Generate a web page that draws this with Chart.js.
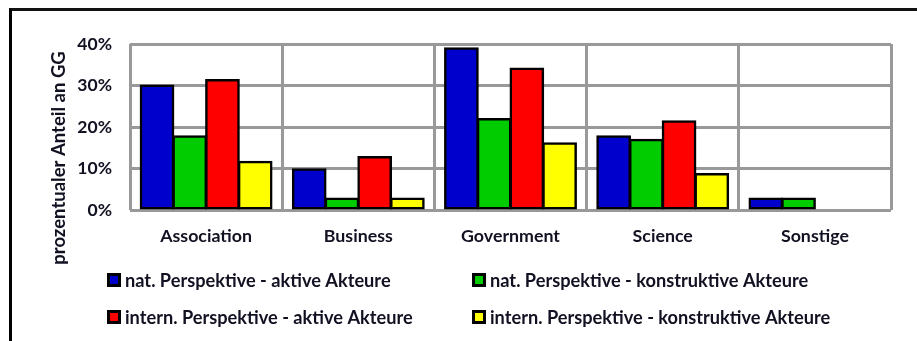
<!DOCTYPE html>
<html><head><meta charset="utf-8">
<script src="https://cdn.jsdelivr.net/npm/chart.js@4/dist/chart.umd.min.js"></script>
<style>
html,body{margin:0;padding:0;background:#fff;}
#wrap{position:relative;width:917px;height:341px;overflow:hidden;}
#frame{position:absolute;left:9px;top:8px;right:-5px;bottom:-5px;border-left:3px solid #000;border-top:3px solid #111;pointer-events:none;}
canvas{position:absolute;left:0;top:0;}
</style></head><body>
<div id="wrap"><canvas id="c" width="917" height="341"></canvas><div id="frame"></div></div>
<script>
const categories = ['Association', 'Business', 'Government', 'Science', 'Sonstige'];
const natAktiv = [30.0, 9.8, 39.0, 17.8, 2.8];
const natKonstruktiv = [17.8, 2.8, 21.9, 16.9, 2.8];
const internAktiv = [31.3, 12.8, 34.1, 21.4, 0];
const internKonstruktiv = [11.6, 2.8, 16.1, 8.7, 0];
const seriesLabels = [
  'nat. Perspektive - aktive Akteure',
  'nat. Perspektive - konstruktive Akteure',
  'intern. Perspektive - aktive Akteure',
  'intern. Perspektive - konstruktive Akteure'
];
const seriesColors = ['#0000CC', '#00CC00', '#FF0000', '#FFFF00'];
const yTickValues = [0, 10, 20, 30, 40];
const yTitle = 'prozentualer Anteil an GG';

const FONT = 'Lato';
const TEXT = '#111122';
const values = [natAktiv, natKonstruktiv, internAktiv, internKonstruktiv];

const legendPlugin = {
  id: 'gridLegend',
  afterDraw(chart) {
    const ctx = chart.ctx;
    ctx.save();
    ctx.font = 'bold 18.5px ' + FONT;
    ctx.fillStyle = TEXT;
    ctx.textAlign = 'center';
    ctx.textBaseline = 'middle';
    ctx.translate(59, 158);
    ctx.rotate(-Math.PI / 2);
    ctx.fillText(yTitle, 0, 0);
    ctx.restore();

    ctx.save();
    const cols = [107, 472];
    const rows = [280, 317];
    chart.data.datasets.forEach((ds, i) => {
      const x = cols[i % 2];
      const y = rows[Math.floor(i / 2)];
      ctx.fillStyle = '#000';
      ctx.fillRect(x, y - 7, 14, 14);
      ctx.fillStyle = ds.backgroundColor;
      ctx.fillRect(x + 3, y - 4, 8, 8);
      ctx.fillStyle = TEXT;
      ctx.font = 'bold 18.2px ' + FONT;
      ctx.textAlign = 'left';
      ctx.textBaseline = 'middle';
      ctx.fillText(ds.label, x + 18, y + 1);
    });
    ctx.restore();
  }
};

new Chart(document.getElementById('c'), {
  type: 'bar',
  data: {
    labels: categories,
    datasets: values.map((v, i) => ({
      label: seriesLabels[i],
      data: v,
      backgroundColor: seriesColors[i],
      borderColor: '#000',
      borderWidth: 2.5,
      borderSkipped: false,
      inflateAmount: 1
    }))
  },
  options: {
    responsive: false,
    animation: false,
    devicePixelRatio: 1,
    layout: { padding: { top: 44, right: 26, left: 0, bottom: 0 } },
    datasets: { bar: { categoryPercentage: 0.86, barPercentage: 1.0 } },
    plugins: { legend: { display: false }, tooltip: { enabled: false } },
    scales: {
      x: {
        grid: { display: true, offset: true, color: '#999999', lineWidth: 3, drawTicks: false },
        border: { display: false },
        ticks: { color: TEXT, font: { family: FONT, size: 17.8, weight: 'bold' }, padding: 16 },
        afterFit(scale) { scale.height = 131; }
      },
      y: {
        min: 0, max: 40,
        afterBuildTicks(scale) { scale.ticks = yTickValues.map(v => ({ value: v })); },
        grid: { color: '#999999', lineWidth: 3, drawTicks: false },
        border: { display: false },
        ticks: {
          color: TEXT, font: { family: FONT, size: 17.5, weight: 'bold' }, padding: 18,
          callback: v => v + '%'
        },
        afterFit(scale) { scale.width = 130; }
      }
    }
  },
  plugins: [legendPlugin]
});
</script>
</body></html>
